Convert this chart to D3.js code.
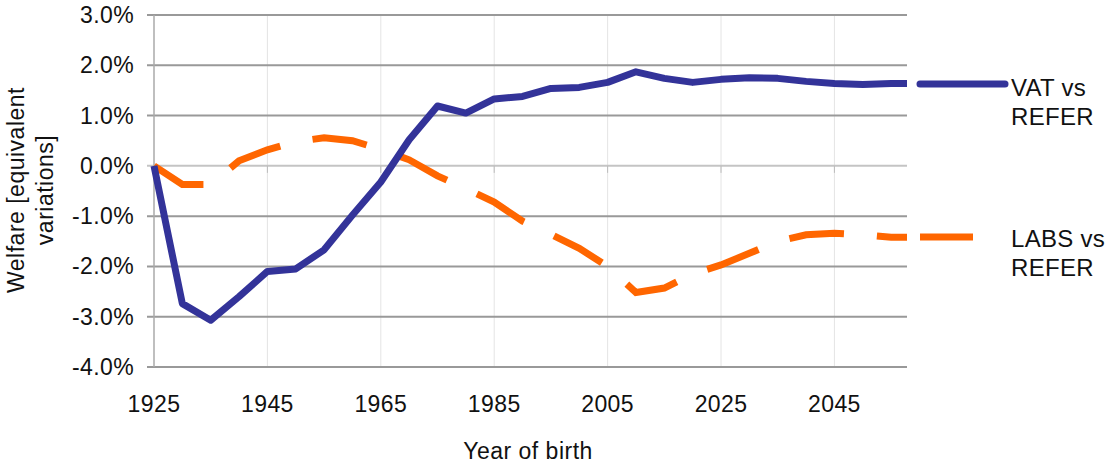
<!DOCTYPE html>
<html lang="en">
<head>
    <meta charset="UTF-8">
    <title>Welfare by Year of Birth</title>
    <script src="https://d3js.org/d3.v7.min.js"></script>
    <style>
        body { margin: 0; background: #fff; }
        text {
            font-family: Arial, "Liberation Sans", sans-serif;
            fill: #111;
        }
        .tick-label { font-size: 23px; letter-spacing: 0.4px; }
        .title { font-size: 23px; letter-spacing: 0.5px; }
        .legend-text { font-size: 24px; letter-spacing: 0.3px; }
    </style>
</head>
<body>
    <script>
        // Data (% welfare change)
        const years = [1925, 1930, 1935, 1940, 1945, 1950, 1955, 1960, 1965, 1970,
                       1975, 1980, 1985, 1990, 1995, 2000, 2005, 2010, 2015, 2020,
                       2025, 2030, 2035, 2040, 2045, 2050, 2055, 2060];
        const vatVsRefer = [0.0, -2.74, -3.07, -2.6, -2.1, -2.05, -1.67, -0.98, -0.32, 0.52,
                            1.19, 1.05, 1.33, 1.38, 1.54, 1.56, 1.66, 1.87, 1.74, 1.66,
                            1.72, 1.75, 1.74, 1.68, 1.64, 1.62, 1.64, 1.64];
        const labsVsRefer = [0.0, -0.37, -0.37, 0.1, 0.32, 0.48, 0.56, 0.5, 0.33, 0.12,
                             -0.2, -0.45, -0.72, -1.1, -1.36, -1.64, -2.0, -2.52, -2.43, -2.15,
                             -1.97, -1.74, -1.5, -1.37, -1.34, -1.37, -1.42, -1.42];
        const xTicks = [1925, 1945, 1965, 1985, 2005, 2025, 2045];
        const yTicks = [3, 2, 1, 0, -1, -2, -3, -4];
        const seriesNames = ["VAT vs REFER", "LABS vs REFER"];

        const width = 1105, height = 464;
        const plot = {left: 154, right: 907, top: 15, bottom: 367};

        const svg = d3.select("body")
            .append("svg")
            .attr("width", width)
            .attr("height", height);

        const x = d3.scaleLinear()
            .domain([1925, 2057.8])
            .range([plot.left, plot.right]);

        const y = d3.scaleLinear()
            .domain([-4, 3])
            .range([plot.bottom, plot.top]);

        // Vertical grid (faint)
        svg.append("g")
            .selectAll("line")
            .data(xTicks.slice(1))
            .join("line")
            .attr("x1", d => x(d)).attr("x2", d => x(d))
            .attr("y1", plot.top).attr("y2", plot.bottom)
            .attr("stroke", "#e4e4e4")
            .attr("stroke-width", 1);

        // Horizontal grid
        svg.append("g")
            .selectAll("line")
            .data(yTicks)
            .join("line")
            .attr("x1", plot.left - 7).attr("x2", plot.right)
            .attr("y1", d => y(d)).attr("y2", d => y(d))
            .attr("stroke", d => d === 0 ? "#c4c4c4" : "#999")
            .attr("stroke-width", 2);

        // Y axis line
        svg.append("line")
            .attr("x1", plot.left).attr("x2", plot.left)
            .attr("y1", plot.top).attr("y2", plot.bottom)
            .attr("stroke", "#aaa")
            .attr("stroke-width", 1.5);

        // Category tick marks on the zero line
        svg.append("g")
            .selectAll("line")
            .data(xTicks.slice(1))
            .join("line")
            .attr("x1", d => x(d)).attr("x2", d => x(d))
            .attr("y1", y(0)).attr("y2", y(0) + 7)
            .attr("stroke", "#bbb")
            .attr("stroke-width", 1);

        // Tick labels
        svg.append("g")
            .selectAll("text")
            .data(yTicks)
            .join("text")
            .attr("class", "tick-label")
            .attr("x", 134)
            .attr("y", d => y(d) + 8)
            .attr("text-anchor", "end")
            .text(d => d.toFixed(1) + "%");

        svg.append("g")
            .selectAll("text")
            .data(xTicks)
            .join("text")
            .attr("class", "tick-label")
            .attr("x", d => x(d))
            .attr("y", 412)
            .attr("text-anchor", "middle")
            .text(d => d);

        // Axis titles
        svg.append("text")
            .attr("class", "title")
            .attr("x", 528)
            .attr("y", 459)
            .attr("text-anchor", "middle")
            .text("Year of birth");

        const yTitle = svg.append("text")
            .attr("class", "title")
            .attr("transform", "translate(24,190) rotate(-90)")
            .attr("text-anchor", "middle");
        yTitle.append("tspan").attr("x", 0).attr("y", 0).text("Welfare [equivalent");
        yTitle.append("tspan").attr("x", 0).attr("y", 29).text("variations]");

        // Lines
        svg.append("clipPath")
            .attr("id", "plot-clip")
            .append("rect")
            .attr("x", plot.left - 5).attr("y", 0)
            .attr("width", plot.right - plot.left + 5).attr("height", height);

        const line = d3.line()
            .x((d, i) => x(years[i]))
            .y(d => y(d));

        const g = svg.append("g").attr("clip-path", "url(#plot-clip)");

        g.append("path")
            .datum(labsVsRefer)
            .attr("d", line)
            .attr("fill", "none")
            .attr("stroke", "#ff6600")
            .attr("stroke-width", 7)
            .attr("stroke-dasharray", "55,33");

        g.append("path")
            .datum(vatVsRefer)
            .attr("d", line)
            .attr("fill", "none")
            .attr("stroke", "#333399")
            .attr("stroke-width", 7)
            .attr("stroke-linejoin", "round");

        // Legend
        const legend = [
            {name: seriesNames[0], y: 84, color: "#333399", dash: null, textY: 96},
            {name: seriesNames[1], y: 237, color: "#ff6600", dash: "56,40", textY: 247}
        ];

        legend.forEach(l => {
            svg.append("line")
                .attr("x1", 920).attr("x2", l.dash ? 973 : 1005)
                .attr("y1", l.y).attr("y2", l.y)
                .attr("stroke", l.color)
                .attr("stroke-width", 7)
                .attr("stroke-linecap", l.dash ? "butt" : "round");
            const parts = l.name.split(" REFER");
            const t = svg.append("text")
                .attr("class", "legend-text")
                .attr("x", 1011)
                .attr("y", l.textY);
            t.append("tspan").attr("x", 1011).text(parts[0]);
            t.append("tspan").attr("x", 1011).attr("dy", 29).text("REFER");
        });
    </script>
</body>
</html>
